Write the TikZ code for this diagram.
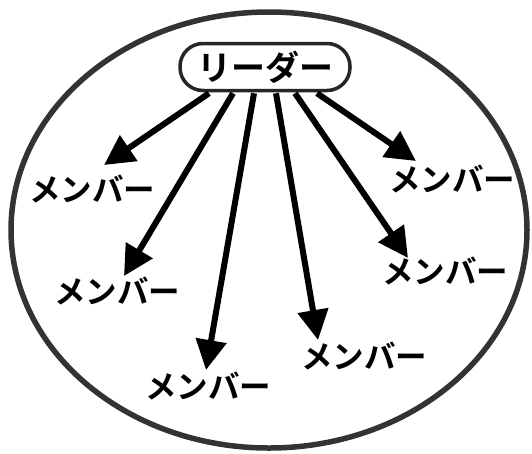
\documentclass[tikz,border=0pt]{standalone}
\usepackage{fontspec}
\newfontfamily\jpfont{Noto Sans CJK JP Bold}
\usetikzlibrary{arrows.meta}
\begin{document}
\begin{tikzpicture}[x=1pt,y=-1pt,
  member/.style={font=\jpfont\fontsize{31.5}{34}\selectfont, inner sep=0pt},
  arr/.style={line width=6pt, -{Triangle[length=30pt,width=30pt]}}]
\useasboundingbox (0,0) rectangle (532,453);
\coordinate (oc) at (269,230);
\draw[draw=black!80, line width=5.5pt] (oc) ellipse [x radius=258pt, y radius=218pt];
\node[member] (m1) at (92,189) {メンバー};
\node[member] (m2) at (117,291) {メンバー};
\node[member] (m3) at (208,386) {メンバー};
\node[member] (m4) at (364,356) {メンバー};
\node[member] (m5) at (445,271) {メンバー};
\node[member] (m6) at (452,179) {メンバー};
\coordinate (t1) at (104,165);
\coordinate (t2) at (124,276);
\coordinate (t3) at (206,370);
\coordinate (t4) at (318,340);
\coordinate (t5) at (408,258);
\coordinate (t6) at (416,161);
\node[draw=black!85, line width=3.5pt, rounded corners=23pt, fill=white, minimum width=170pt, minimum height=47pt, inner sep=0pt, font=\jpfont\fontsize{34}{36}\selectfont] (leader) at (265,67) {リーダー};
\draw[arr] ([xshift=-56pt,yshift=-1pt]leader.south) -- (t1);
\draw[arr] ([xshift=-32pt,yshift=-1pt]leader.south) -- (t2);
\draw[arr] ([xshift=-11pt,yshift=-1pt]leader.south) -- (t3);
\draw[arr] ([xshift=11pt,yshift=-1pt]leader.south) -- (t4);
\draw[arr] ([xshift=30pt,yshift=-1pt]leader.south) -- (t5);
\draw[arr] ([xshift=52pt,yshift=-1pt]leader.south) -- (t6);
\end{tikzpicture}
\end{document}
